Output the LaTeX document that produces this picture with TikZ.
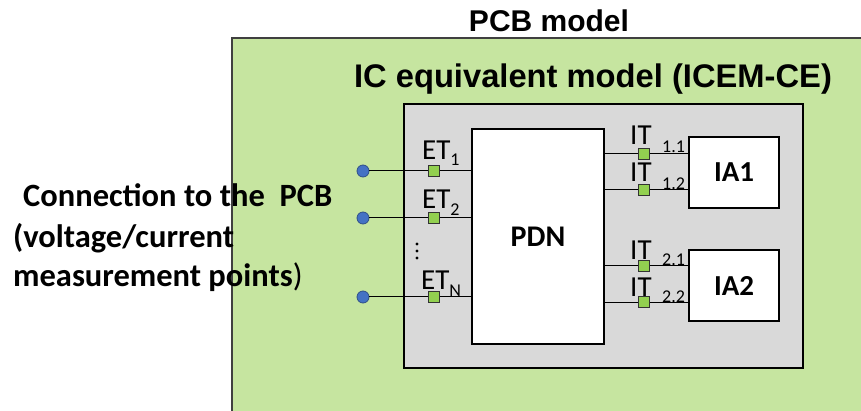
\documentclass[tikz,border=0pt]{standalone}
\usepackage{fontspec}
\setmainfont{Liberation Sans}
\newfontfamily\calibri{Carlito}
\usepackage{xcolor}
\usetikzlibrary{positioning}

\definecolor{pcbgreen}{RGB}{198,229,160}
\definecolor{pcbedge}{RGB}{64,64,64}
\definecolor{icemgray}{RGB}{217,217,217}
\definecolor{portgreen}{RGB}{146,208,80}
\definecolor{pinblue}{RGB}{68,114,196}

\tikzset{
  blockbox/.style={draw=black, line width=1.2pt, fill=white, inner sep=0pt},
  portsq/.style={draw=black!80, line width=0.9pt, fill=portgreen,
                 minimum size=11pt, inner sep=0pt},
  pindot/.style={circle, draw=pinblue!70!black, line width=0.8pt, fill=pinblue,
                 minimum size=12pt, inner sep=0pt},
  wire/.style={line width=1pt},
  portlbl/.style={font=\calibri\fontsize{29}{29}\selectfont, inner sep=0pt, anchor=base west},
  portsub/.style={font=\calibri\fontsize{18}{18}\selectfont, inner sep=0pt, anchor=base west},
  conntxt/.style={font=\calibri\bfseries\fontsize{32.5}{32.5}\selectfont, inner sep=0pt, anchor=base west}
}

\begin{document}
\begin{tikzpicture}[x=1pt, y=-1pt]
  \useasboundingbox (0,0) rectangle (861,411);
  \clip (0,0) rectangle (861,411);
  % PCB and ICEM frames
  \draw[fill=pcbgreen, draw=pcbedge, line width=1.6pt] (232,38) rectangle (890,440);
  \node[anchor=base, inner sep=0pt, font=\bfseries\fontsize{30}{30}\selectfont]
    (pcbtitle) at (549,32) {PCB model};
  \draw[fill=icemgray, line width=1.2pt] (404,104) rectangle (803,368);
  \node[anchor=base, inner sep=0pt, font=\bfseries\fontsize{32.7}{32.7}\selectfont]
    (icemtitle) at (593,88) {IC equivalent model (ICEM-CE)};
  % Blocks
  \node[blockbox, minimum width=132pt, minimum height=215pt,
        font=\calibri\bfseries\fontsize{30}{30}\selectfont] (pdn) at (538,236.5) {PDN};
  \node[blockbox, minimum width=90pt, minimum height=71pt,
        font=\calibri\bfseries\fontsize{29}{29}\selectfont] (ia1) at (734,172.5) {IA1};
  \node[blockbox, minimum width=90pt, minimum height=71pt,
        font=\calibri\bfseries\fontsize{29}{29}\selectfont] (ia2) at (734,285.5) {IA2};
  % External terminals
  \foreach \y/\n in {171/1, 218/2, 297/3}{
    \node[pindot] (pin\n) at (363,\y) {};
    \node[portsq] (et\n) at (434,\y) {};
    \draw[wire] (pin\n) -- (et\n) -- (et\n -| pdn.west);
  }
  \node[portlbl] (etlbl1) at (422,160) {ET\raisebox{-6pt}{\fontsize{18}{18}\selectfont 1}};
  \node[portlbl] (etlbl2) at (422,209) {ET\raisebox{-7pt}{\fontsize{18}{18}\selectfont 2}};
  \node[portlbl] (etlbl3) at (421,290) {ET\raisebox{-7pt}{\fontsize{18}{18}\selectfont N}};
  \foreach \k in {0,1,2}
    \fill (417,244+7*\k) circle (1.7);
  % Internal terminals
  \foreach \y/\n/\ia in {154/11/ia1, 190/12/ia1, 266/21/ia2, 302/22/ia2}{
    \node[portsq] (it\n) at (644,\y) {};
    \draw[wire] (pdn.east |- it\n) -- (it\n) -- (\ia.west |- it\n);
  }
  \foreach \n/\yb/\ys/\s in {11/145/153/1.1, 12/182/190/1.2, 21/260/266/2.1, 22/297/302/2.2}{
    \node[portlbl] (itlbl\n) at (630,\yb) {IT};
    \node[portsub] (itsub\n) at (662,\ys) {\s};
  }
  % Left annotation
  \node[conntxt] (conn1) at (23,207) {Connection to the~~PCB};
  \node[conntxt] (conn2) at (13,248) {(voltage/current};
  \node[conntxt] (conn3) at (13,287) {measurement points\mdseries)};
\end{tikzpicture}
\end{document}
